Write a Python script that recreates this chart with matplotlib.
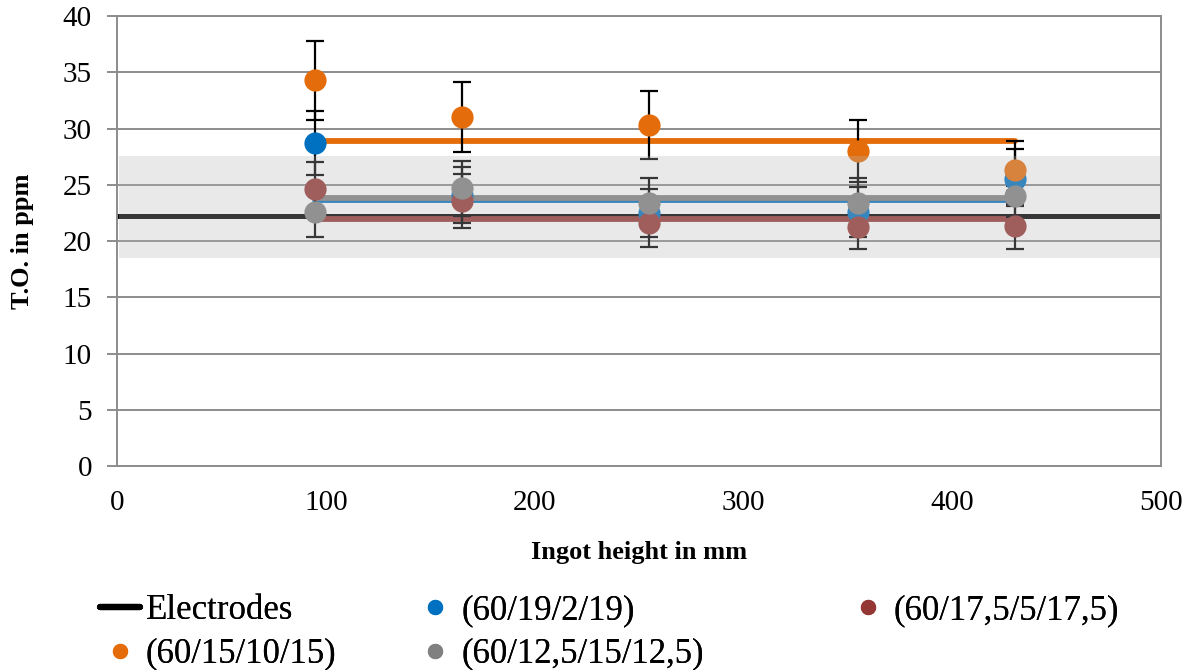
import matplotlib
matplotlib.use("Agg")
import matplotlib.pyplot as plt
from matplotlib.lines import Line2D

# ingot heights of the sampling positions (mm)
heights = [95, 165, 255, 355, 430]

series_labels = ["(60/19/2/19)", "(60/17,5/5/17,5)", "(60/15/10/15)", "(60/12,5/15/12,5)"]
series_colors = ["#0070C0", "#953735", "#E46C0A", "#808080"]

# T.O. content (ppm) and standard deviation per slag
to_19_2 = [28.7, 24.1, 22.5, 22.6, 25.5]
sd_19_2 = [2.85, 2.5, 2.15, 2.2, 3.4]
to_17_5 = [24.6, 23.6, 21.6, 21.25, 21.3]
sd_17_5 = [2.45, 2.4, 2.1, 2.0, 2.0]
to_15_10 = [34.3, 31.0, 30.3, 28.0, 26.3]
sd_15_10 = [3.5, 3.1, 3.0, 2.75, 1.85]
to_12_15 = [22.6, 24.7, 23.4, 23.4, 24.0]
sd_12_15 = [2.2, 2.45, 2.2, 2.2, 0.9]

# average level of each slag over the ingot
avg_levels = [23.65, 22.0, 28.9, 23.8]

# electrode reference and its scatter band
electrode_to = 22.25
electrode_band = (18.45, 27.6)

plt.rcParams["font.family"] = ["Liberation Serif", "DejaVu Serif"]

fig = plt.figure(figsize=(11.84, 6.70), dpi=100)
ax = fig.add_axes([0.0988, 0.3045, 0.8818, 0.6715])

GRID = "#8c8c8c"
ax.set_xlim(0, 500)
ax.set_ylim(0, 40)
ax.set_xticks(range(0, 501, 100))
ax.set_yticks(range(0, 41, 5))
ax.grid(axis="y", color=GRID, lw=1.4, zorder=0)
for side in ax.spines.values():
    side.set_color(GRID)
    side.set_linewidth(1.4)
ax.tick_params(axis="y", length=7, width=1.4, color=GRID, labelsize=21, pad=11)
ax.tick_params(axis="x", length=0, labelsize=21, pad=17)

ax.axhline(electrode_to, color="black", lw=3.6, zorder=2)

values = [to_19_2, to_17_5, to_15_10, to_12_15]
errors = [sd_19_2, sd_17_5, sd_15_10, sd_12_15]
for lvl, col in zip(avg_levels, series_colors):
    ax.plot([heights[0], heights[-1]], [lvl, lvl], color=col, lw=4.2,
            solid_capstyle="round", zorder=3)
for ys, es in zip(values, errors):
    ax.errorbar(heights, ys, yerr=es, fmt="none", ecolor="black",
                elinewidth=1.6, capsize=6.5, capthick=1.6, zorder=4)
for ys, col in zip(values, series_colors):
    ax.plot(heights, ys, "o", color=col, ms=16, mec="none", zorder=5)

# translucent scatter band of the electrodes, laid over everything
ax.axhspan(*electrode_band, xmin=0.002, xmax=0.999, color="#b9b9b9",
           alpha=0.3, lw=0, zorder=10)

ax.set_xlabel("Ingot height in mm", fontsize=19, fontweight="bold", labelpad=18)
ax.set_ylabel("T.O. in ppm", fontsize=19, fontweight="bold", labelpad=21)


def dot(col):
    return Line2D([], [], ls="none", marker="o", ms=11, mec="none", color=col)


# legend laid out in three columns, as the entries fill row by row
columns = [
    ([Line2D([], [], color="black", lw=4.5, solid_capstyle="round"), dot(series_colors[2])],
     ["Electrodes", series_labels[2]], 0.0845),
    ([dot(series_colors[0]), dot(series_colors[3])],
     [series_labels[0], series_labels[3]], 0.351),
    ([dot(series_colors[1])], [series_labels[1]], 0.716),
]
for hs, ls, x0 in columns:
    leg = fig.legend(hs, ls, loc="upper left", bbox_to_anchor=(x0, 0.113),
                     frameon=False, fontsize=25, handlelength=1.14,
                     handletextpad=0.17, labelspacing=0.3, borderaxespad=0,
                     borderpad=0)
    fig.add_artist(leg)

fig.savefig("out.png", dpi=100)
